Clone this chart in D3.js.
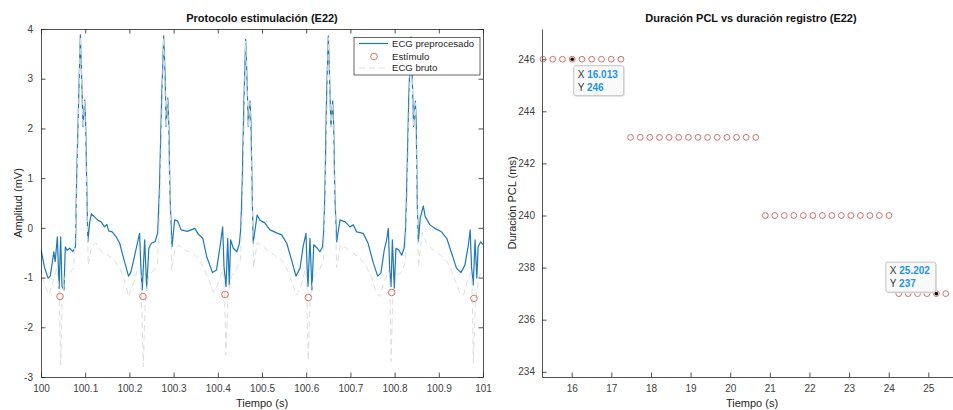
<!DOCTYPE html>
<html><head><meta charset="utf-8">
<script src="https://cdn.jsdelivr.net/npm/d3@7"></script>
<style>
html,body{margin:0;padding:0;background:#fff;}
text{font-family:"Liberation Sans",Arial,Helvetica,sans-serif;}
</style></head>
<body>
<svg id="chart" width="953" height="410"></svg>
<script>
// ---------- Left chart data ----------
const leftTitle = "Protocolo estimulación (E22)";
const leftXTicks = [100,100.1,100.2,100.3,100.4,100.5,100.6,100.7,100.8,100.9,101];
const leftYTicks = [-3,-2,-1,0,1,2,3,4];
const legendLabels = ["ECG preprocesado","Estímulo","ECG bruto"];

const ecgPreprocesado = [
[100.000,-0.43],[100.008,-0.80],[100.016,-1.01],[100.021,-0.97],[100.029,-0.48],[100.032,-0.68],[100.037,-0.18],[100.041,-1.22],[100.0445,-0.18],[100.0475,-1.18],[100.052,-1.25],[100.055,-0.38],[100.059,-0.45],[100.065,-0.41],[100.072,-0.48],[100.078,-0.38],
[100.0805,0.9],[100.085,2.5],[100.089,3.88],[100.092,3.0],[100.095,2.04],[100.097,2.3],[100.099,2.57],[100.101,2.1],[100.104,0.6],[100.106,-0.28],[100.110,0.1],[100.114,0.28],[100.121,0.22],[100.128,0.16],[100.136,0.12],[100.144,0.02],[100.149,0.07],[100.153,-0.06],[100.161,-0.08],[100.170,-0.18],[100.178,-0.31],[100.188,-0.65],[100.198,-0.97],[100.203,-0.90],[100.208,-0.71],[100.218,-0.31],[100.223,-0.11],[100.226,-0.8],[100.229,-1.25],[100.2346,-0.24],[100.239,-1.22],[100.244,-0.41],[100.2496,-0.31],[100.258,-0.28],[100.264,-0.1],
[100.268,0.8],[100.273,2.6],[100.2776,3.86],[100.281,3.0],[100.283,2.04],[100.285,2.3],[100.287,2.61],[100.289,2.1],[100.292,0.6],[100.2964,-0.38],[100.3025,0.16],[100.309,0.14],[100.317,-0.04],[100.331,-0.07],[100.348,-0.01],[100.356,-0.13],[100.366,-0.21],[100.375,-0.58],[100.388,-0.90],[100.397,-0.85],[100.405,-0.38],[100.411,0.02],[100.414,-0.78],[100.4186,-1.18],[100.4224,-0.21],[100.426,-1.15],[100.429,-0.24],[100.435,-0.41],[100.443,-0.48],[100.449,-0.31],[100.452,0.0],
[100.455,0.8],[100.459,2.5],[100.463,3.79],[100.466,3.0],[100.469,2.04],[100.471,2.3],[100.473,2.55],[100.475,2.1],[100.478,0.6],[100.480,-0.31],[100.489,0.26],[100.495,0.16],[100.506,0.10],[100.518,-0.04],[100.533,-0.10],[100.5445,-0.14],[100.556,-0.31],[100.567,-0.65],[100.577,-0.97],[100.586,-0.81],[100.593,-0.38],[100.5995,-0.11],[100.602,-0.8],[100.604,-1.18],[100.6085,-0.21],[100.613,-1.25],[100.617,-0.34],[100.625,-0.41],[100.631,-0.48],[100.637,-0.38],[100.640,0.0],
[100.6425,0.8],[100.646,2.6],[100.650,3.86],[100.653,3.0],[100.656,2.04],[100.658,2.3],[100.660,2.55],[100.662,2.1],[100.665,0.6],[100.669,-0.28],[100.6765,0.16],[100.688,0.12],[100.699,0.02],[100.7065,0.06],[100.714,-0.08],[100.729,-0.11],[100.740,-0.31],[100.752,-0.71],[100.7617,-0.97],[100.769,-0.91],[100.7767,-0.44],[100.782,-0.24],[100.7858,-0.01],[100.789,-0.85],[100.792,-1.18],[100.795,-0.24],[100.7993,-1.22],[100.803,-0.41],[100.810,-0.45],[100.816,-0.55],[100.8214,-0.41],[100.825,0.0],
[100.8274,0.8],[100.832,2.6],[100.837,3.84],[100.840,3.0],[100.843,2.04],[100.845,2.3],[100.847,2.55],[100.849,2.1],[100.851,0.6],[100.8536,-0.28],[100.858,0.2],[100.865,0.44],[100.869,0.23],[100.880,0.06],[100.891,-0.01],[100.906,-0.08],[100.918,-0.21],[100.929,-0.51],[100.940,-0.81],[100.950,-0.90],[100.959,-0.75],[100.967,-0.34],[100.971,-0.04],[100.974,-0.78],[100.978,-1.15],[100.982,-0.24],[100.986,-1.01],[100.989,-0.38],[100.995,-0.28],[101.000,-0.34]
];

const ecgBruto = [
[100.000,-0.80],[100.008,-1.15],[100.018,-1.35],[100.028,-1.05],[100.036,-0.80],[100.041,-1.30],[100.0445,-2.76],[100.048,-1.40],[100.055,-0.95],[100.065,-0.90],[100.074,-0.80],[100.0805,0.50],[100.089,3.85],[100.095,2.02],[100.099,2.55],[100.104,0.40],[100.107,-0.75],[100.114,-0.40],[100.124,-0.30],[100.138,-0.50],[100.152,-0.55],[100.166,-0.65],[100.180,-0.85],[100.190,-1.10],[100.198,-1.38],[100.208,-1.15],[100.218,-0.85],[100.226,-0.95],[100.2315,-2.79],[100.236,-1.40],[100.244,-0.95],[100.256,-0.85],[100.264,-0.70],
[100.269,0.50],[100.2776,3.83],[100.283,2.02],[100.287,2.58],[100.292,0.40],[100.296,-0.85],[100.303,-0.40],[100.312,-0.35],[100.325,-0.45],[100.340,-0.50],[100.355,-0.60],[100.368,-0.80],[100.380,-1.05],[100.390,-1.30],[100.400,-1.15],[100.410,-0.85],[100.414,-1.0],[100.4186,-2.56],[100.423,-1.35],[100.432,-0.95],[100.442,-0.85],[100.451,-0.65],
[100.456,0.50],[100.463,3.76],[100.469,2.02],[100.473,2.52],[100.478,0.40],[100.481,-0.80],[100.489,-0.30],[100.498,-0.35],[100.512,-0.45],[100.528,-0.55],[100.545,-0.65],[100.558,-0.85],[100.568,-1.10],[100.578,-1.35],[100.588,-1.20],[100.597,-0.85],[100.601,-1.0],[100.6045,-2.66],[100.609,-1.40],[100.618,-0.95],[100.630,-0.85],[100.639,-0.65],
[100.643,0.50],[100.650,3.83],[100.656,2.02],[100.660,2.52],[100.665,0.40],[100.669,-0.80],[100.677,-0.35],[100.690,-0.40],[100.705,-0.50],[100.720,-0.60],[100.735,-0.75],[100.748,-1.00],[100.758,-1.30],[100.766,-1.38],[100.776,-1.10],[100.786,-0.85],[100.789,-1.0],[100.792,-2.69],[100.796,-1.40],[100.805,-0.95],[100.815,-0.90],[100.824,-0.70],
[100.828,0.50],[100.837,3.81],[100.843,2.02],[100.847,2.52],[100.851,0.40],[100.854,-0.80],[100.862,-0.10],[100.872,-0.30],[100.888,-0.45],[100.905,-0.55],[100.920,-0.70],[100.935,-1.00],[100.947,-1.30],[100.956,-1.35],[100.965,-1.05],[100.972,-0.90],[100.975,-1.0],[100.978,-2.72],[100.983,-1.45],[100.992,-0.95],[101.000,-0.90]
];

const estimuloT = [100.043,100.2308,100.4163,100.6048,100.7934,100.9796];
const estimuloV = [-1.38,-1.38,-1.34,-1.40,-1.30,-1.42];

// ---------- Right chart data ----------
const rightTitle = "Duración PCL vs duración registro (E22)";
const rightXTicks = [16,17,18,19,20,21,22,23,24,25];
const rightYTicks = [234,236,238,240,242,244,246];
const pclTime = [15.275,15.521,15.767,16.013,16.259,16.505,16.751,16.997,17.243,
 17.486,17.729,17.972,18.215,18.458,18.701,18.944,19.187,19.430,19.673,19.916,20.159,20.402,20.645,
 20.885,21.125,21.365,21.605,21.845,22.085,22.325,22.565,22.805,23.045,23.285,23.525,23.765,24.005,
 24.254,24.491,24.728,24.965,25.202,25.439];
const pclValue = [246,246,246,246,246,246,246,246,246,
 243,243,243,243,243,243,243,243,243,243,243,243,243,243,
 240,240,240,240,240,240,240,240,240,240,240,240,240,240,
 237,237,237,237,237,237];
const dataTips = [{x:16.013,y:246,pos:"br"},{x:25.202,y:237,pos:"tl"}];

// ---------- Drawing ----------
const svg = d3.select("#chart");
const axisCol = "#262626", labCol = "#404040";
const blue = "#1f78b8", orange = "#d9745e", rawCol = "#dedede", pclCol = "#cf5f5a";

// Left
const L = {x0:41, x1:483, y0:29, y1:377};
const xL = d3.scaleLinear().domain([100,101]).range([L.x0,L.x1]);
const yL = d3.scaleLinear().domain([-3,4]).range([L.y1,L.y0]);

svg.append("defs").append("clipPath").attr("id","clipL")
  .append("rect").attr("x",L.x0).attr("y",L.y0).attr("width",L.x1-L.x0).attr("height",L.y1-L.y0);

const gL = svg.append("g").attr("clip-path","url(#clipL)");
const line = d3.line().x(d=>xL(d[0])).y(d=>yL(d[1]));
gL.append("path").datum(ecgPreprocesado).attr("d",line)
  .attr("fill","none").attr("stroke",blue).attr("stroke-width",1.2).attr("stroke-linejoin","round");
gL.append("path").datum(ecgBruto).attr("d",line)
  .attr("fill","none").attr("stroke",rawCol).attr("stroke-width",1).attr("stroke-dasharray","6,4");
gL.selectAll("circle.stim").data(estimuloT).enter().append("circle")
  .attr("cx",d=>xL(d)).attr("cy",(d,i)=>yL(estimuloV[i])).attr("r",3.3)
  .attr("fill","none").attr("stroke",orange).attr("stroke-width",1);

function tickAxis(g, axis) {
  g.call(axis);
  g.select(".domain").attr("stroke",axisCol).attr("stroke-width",0.8);
  g.selectAll(".tick line").attr("stroke",axisCol).attr("stroke-width",0.8);
  g.selectAll(".tick text").attr("fill",labCol).style("font-size","10px")
   .style("font-family",'"Liberation Sans",Arial,sans-serif');
}
const fmtL = d=> String(+d.toFixed(1));
const fmtInt = d=> String(d);
tickAxis(svg.append("g").attr("transform",`translate(0,${L.y1})`),
  d3.axisBottom(xL).tickValues(leftXTicks).tickSize(-4.5).tickPadding(8).tickSizeOuter(0).tickFormat(fmtL));
tickAxis(svg.append("g").attr("transform",`translate(0,${L.y0})`),
  d3.axisTop(xL).tickValues(leftXTicks).tickSize(-4.5).tickSizeOuter(0).tickFormat(""));
tickAxis(svg.append("g").attr("transform",`translate(${L.x0},0)`),
  d3.axisLeft(yL).tickValues(leftYTicks).tickSize(-4.5).tickPadding(8).tickSizeOuter(0).tickFormat(fmtInt));
tickAxis(svg.append("g").attr("transform",`translate(${L.x1},0)`),
  d3.axisRight(yL).tickValues(leftYTicks).tickSize(-4.5).tickSizeOuter(0).tickFormat(""));

svg.append("text").attr("x",(L.x0+L.x1)/2).attr("y",22).attr("text-anchor","middle")
  .style("font-size","11px").style("font-weight","bold").attr("fill","#111").text(leftTitle);
svg.append("text").attr("x",(L.x0+L.x1)/2).attr("y",407).attr("text-anchor","middle")
  .style("font-size","11px").attr("fill","#262626").text("Tiempo (s)");
svg.append("text").attr("transform",`translate(22,${(L.y0+L.y1)/2}) rotate(-90)`).attr("text-anchor","middle")
  .style("font-size","11px").attr("fill","#262626").text("Amplitud (mV)");

// Legend
const lg = svg.append("g");
lg.append("rect").attr("x",354).attr("y",37.5).attr("width",126).attr("height",37.5)
  .attr("fill","#fff").attr("stroke",axisCol).attr("stroke-width",0.7);
const legY = [43.5,56.5,68];
lg.append("line").attr("x1",359).attr("x2",388).attr("y1",legY[0]).attr("y2",legY[0])
  .attr("stroke",blue).attr("stroke-width",1.2);
lg.append("circle").attr("cx",374).attr("cy",legY[1]).attr("r",3.3)
  .attr("fill","none").attr("stroke",orange).attr("stroke-width",1);
lg.append("line").attr("x1",359).attr("x2",388).attr("y1",legY[2]).attr("y2",legY[2])
  .attr("stroke",rawCol).attr("stroke-width",1).attr("stroke-dasharray","6,4");
lg.selectAll("text.leg").data(legendLabels).enter().append("text")
  .attr("x",392).attr("y",(d,i)=>legY[i]+3.3).style("font-size","9.6px").attr("fill","#262626").text(d=>d);

// Right
const R = {x0:542, x1:964, y0:29, y1:377};
const xR = d3.scaleLinear().domain([15.25,25.9]).range([R.x0,R.x1]);
const yR = d3.scaleLinear().domain([233.8,247.16]).range([R.y1,R.y0]);

tickAxis(svg.append("g").attr("transform",`translate(0,${R.y1})`),
  d3.axisBottom(xR).tickValues(rightXTicks).tickSize(-4.5).tickPadding(8).tickSizeOuter(0).tickFormat(fmtInt));
tickAxis(svg.append("g").attr("transform",`translate(${R.x0},0)`),
  d3.axisLeft(yR).tickValues(rightYTicks).tickSize(-4.5).tickPadding(7).tickSizeOuter(0).tickFormat(fmtInt));

svg.append("g").selectAll("circle.pcl").data(pclTime).enter().append("circle")
  .attr("cx",d=>xR(d)).attr("cy",(d,i)=>yR(pclValue[i])).attr("r",2.9)
  .attr("fill","none").attr("stroke",pclCol).attr("stroke-width",0.9);

svg.append("text").attr("x",(R.x0+R.x1)/2 - 2).attr("y",22).attr("text-anchor","middle")
  .style("font-size","11px").style("font-weight","bold").attr("fill","#111").text(rightTitle);
svg.append("text").attr("x",752).attr("y",407).attr("text-anchor","middle")
  .style("font-size","11px").attr("fill","#262626").text("Tiempo (s)");
svg.append("text").attr("transform",`translate(516,${(R.y0+R.y1)/2}) rotate(-90)`).attr("text-anchor","middle")
  .style("font-size","11px").attr("fill","#262626").text("Duración PCL (ms)");

// Data tips
dataTips.forEach(tp=>{
  const px = xR(tp.x), py = yR(tp.y);
  const w = 50, h = 30;
  const bx = tp.pos==="br" ? px+1.5 : px-w-0.5;
  const by = tp.pos==="br" ? py+6.5 : py-h-1.5;
  const g = svg.append("g");
  g.append("rect").attr("x",bx+1).attr("y",by+1).attr("width",w).attr("height",h).attr("rx",2)
    .attr("fill","#e6e6e6");
  g.append("rect").attr("x",bx).attr("y",by).attr("width",w).attr("height",h).attr("rx",2)
    .attr("fill","#f9f9f9").attr("stroke","#b5b5b5").attr("stroke-width",0.8);
  const t1 = g.append("text").attr("x",bx+4).attr("y",by+12).style("font-size","10px");
  t1.append("tspan").attr("fill","#333").text("X ");
  t1.append("tspan").attr("fill","#1e96e6").style("font-weight","bold").text(d3.format(".3f")(tp.x));
  const t2 = g.append("text").attr("x",bx+4).attr("y",by+25).style("font-size","10px");
  t2.append("tspan").attr("fill","#333").text("Y ");
  t2.append("tspan").attr("fill","#1e96e6").style("font-weight","bold").text(tp.y);
  svg.append("circle").attr("cx",px).attr("cy",py).attr("r",1.8).attr("fill","#000");
});
</script>
</body></html>
